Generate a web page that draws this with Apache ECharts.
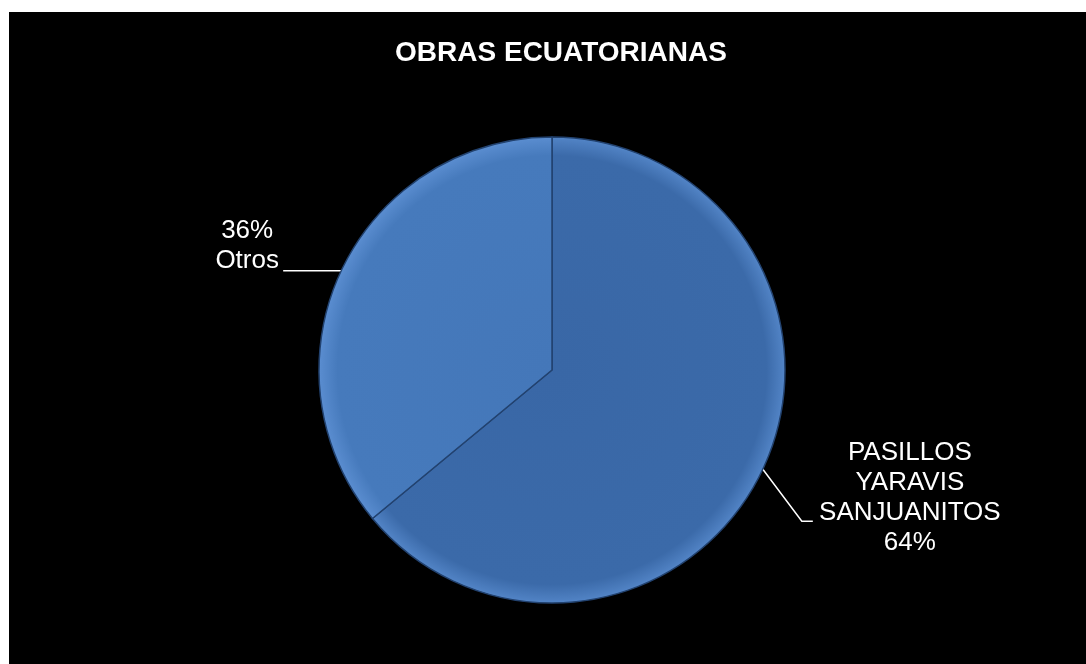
<!DOCTYPE html>
<html>
<head>
<meta charset="utf-8">
<script src="https://cdn.jsdelivr.net/npm/echarts@6/dist/echarts.min.js"></script>
<style>
  html, body { margin: 0; padding: 0; background: #ffffff; width: 1086px; height: 664px; overflow: hidden; }
  #chart { position: absolute; left: 9px; top: 12px; width: 1077px; height: 652px; }
</style>
</head>
<body>
<div id="chart"></div>
<script>
var myChart = echarts.init(document.getElementById('chart'));

var categories = ['PASILLOS YARAVIS SANJUANITOS', 'Otros'];
var values = [64, 36];
var sliceColors = [
    ['#3967a6', '#3b6aa9', '#5284c6'],   // PASILLOS...
    ['#4477b9', '#467abc', '#5a8dd0']    // Otros
];

var pieData = [];
for (var i = 0; i < categories.length; i++) {
    pieData.push({
        value: values[i],
        name: categories[i],
        itemStyle: {
            color: {
                type: 'radial', x: 543, y: 358, r: 233, global: true,
                colorStops: [
                    { offset: 0, color: sliceColors[i][0] },
                    { offset: 0.92, color: sliceColors[i][1] },
                    { offset: 1, color: sliceColors[i][2] }
                ]
            }
        }
    });
}

option = {
    backgroundColor: '#000000',
    title: {
        text: 'OBRAS ECUATORIANAS',
        left: 547,
        textAlign: 'center',
        top: 22,
        textStyle: {
            color: '#ffffff',
            fontFamily: 'Liberation Sans, Arial, sans-serif',
            fontWeight: 'bold',
            fontSize: 28
        }
    },
    series: [{
        type: 'pie',
        center: [543, 358],
        radius: 233,
        startAngle: 90,
        clockwise: true,
        avoidLabelOverlap: false,
        animation: false,
        itemStyle: {
            borderColor: '#22426f',
            borderWidth: 1.5
        },
        label: {
            show: true,
            position: 'outside',
            color: '#ffffff',
            fontFamily: 'Liberation Sans, Arial, sans-serif',
            fontSize: 26,
            lineHeight: 30,
            align: 'center',
            formatter: function (p) {
                if (p.dataIndex === 0) {
                    return p.name.split(' ').join('\n') + '\n' + Math.round(p.percent) + '%';
                }
                return Math.round(p.percent) + '%\n' + p.name;
            }
        },
        labelLine: {
            show: true,
            length: 20,
            length2: 20,
            smooth: false,
            lineStyle: { color: '#ffffff', width: 1.5 }
        },
        labelLayout: function (params) {
            var p0 = params.labelLinePoints[0];
            if (params.dataIndex === 0) {
                return {
                    x: p0[0] + 147,
                    y: p0[1] + 29,
                    align: 'center',
                    verticalAlign: 'middle',
                    labelLinePoints: [p0, [p0[0] + 39, p0[1] + 52], [p0[0] + 50, p0[1] + 52]]
                };
            }
            return {
                x: p0[0] - 94,
                y: p0[1] - 25,
                align: 'center',
                verticalAlign: 'middle',
                labelLinePoints: [p0, [p0[0] - 30, p0[1]], [p0[0] - 58, p0[1]]]
            };
        },
        emphasis: { disabled: true },
        data: pieData
    }]
};
myChart.setOption(option);
</script>
</body>
</html>
